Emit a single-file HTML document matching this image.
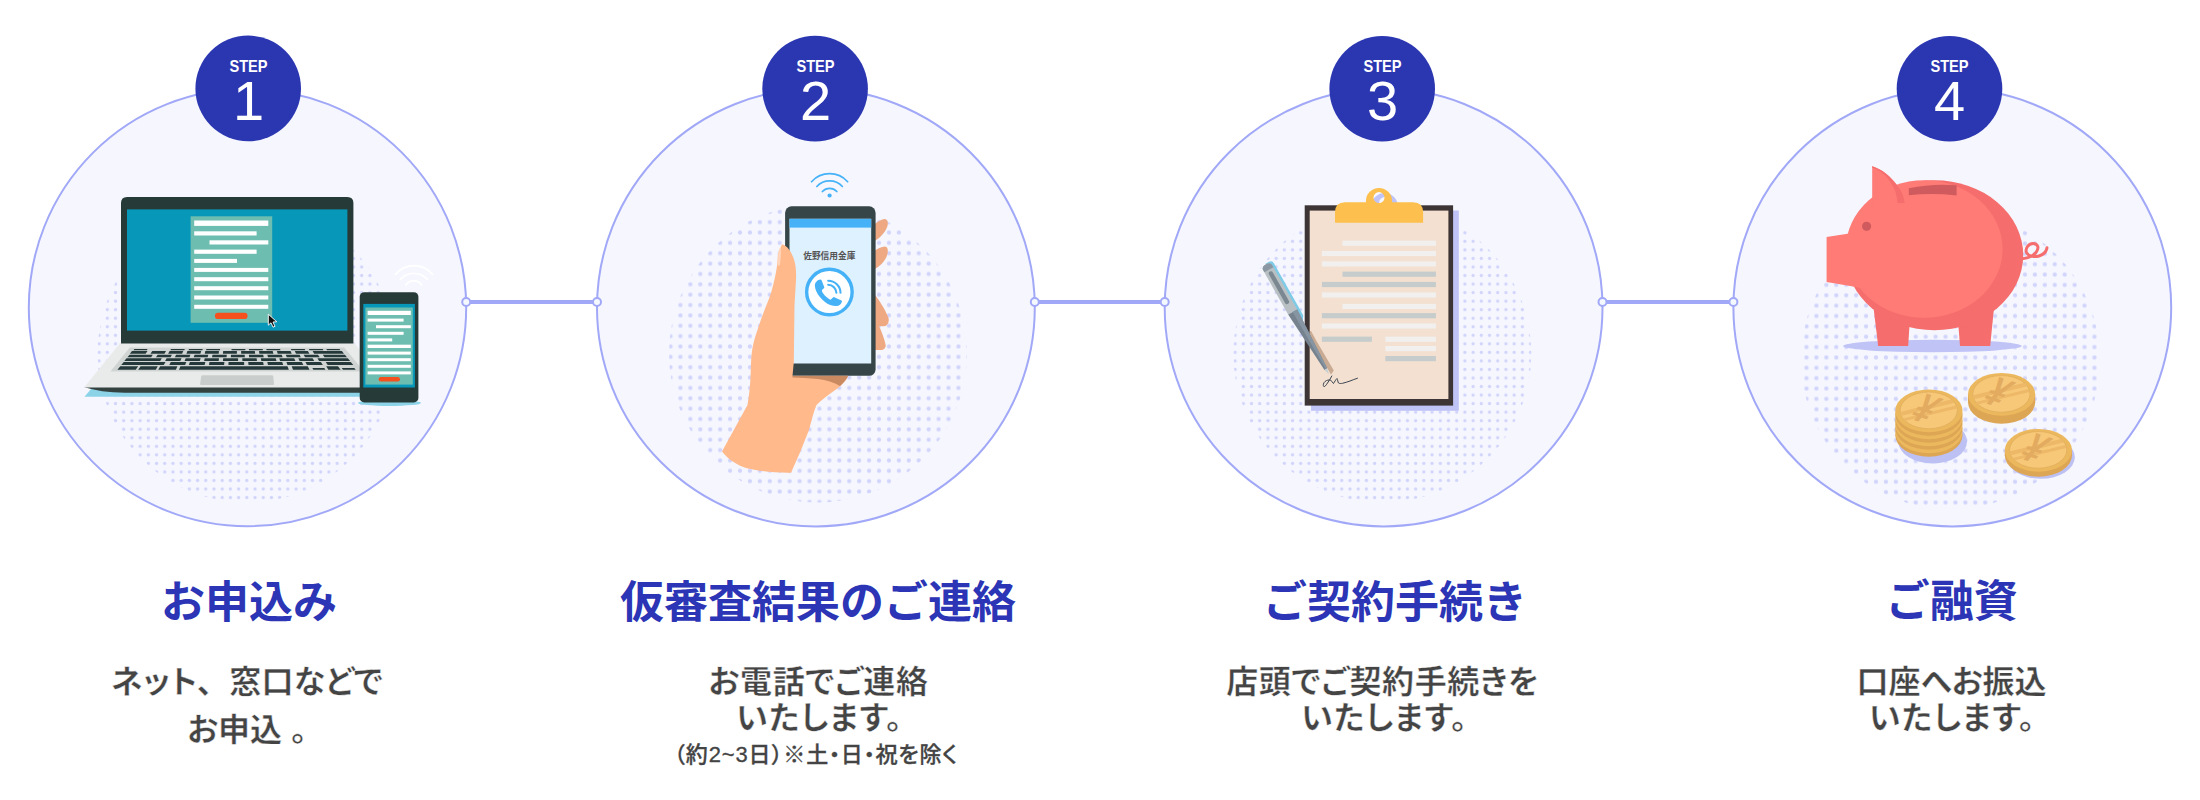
<!DOCTYPE html>
<html lang="ja">
<head>
<meta charset="utf-8">
<title>ご融資までの流れ</title>
<style>
html,body{margin:0;padding:0;background:#fff;}
body{width:2200px;height:800px;overflow:hidden;font-family:"Liberation Sans","Noto Sans CJK JP",sans-serif;}
svg{display:block;}
.hd{font-family:"Liberation Sans","Noto Sans CJK JP",sans-serif;font-weight:700;font-size:44px;fill:#2b35b5;text-anchor:middle;}
.bd{font-family:"Liberation Sans","Noto Sans CJK JP",sans-serif;font-weight:700;font-size:32px;fill:#444;text-anchor:middle;font-feature-settings:"palt";stroke:#fff;stroke-width:0.4px;}
.sm{font-family:"Liberation Sans","Noto Sans CJK JP",sans-serif;font-weight:500;font-size:22px;fill:#444;text-anchor:middle;font-feature-settings:"palt";letter-spacing:0.85px;stroke:#444;stroke-width:0.3px;}
.st{font-family:"Liberation Sans",sans-serif;font-weight:700;font-size:16.3px;fill:#fff;text-anchor:middle;}
.nm{font-family:"Liberation Sans",sans-serif;font-weight:400;font-size:56px;fill:#fff;text-anchor:middle;}
</style>
</head>
<body>
<svg width="2200" height="800" viewBox="0 0 2200 800">
<defs>
  <pattern id="dotS" x="-136.1" y="399.33" width="8.207" height="8.54" patternUnits="userSpaceOnUse">
    <circle cx="4.1" cy="4.27" r="1.65" fill="#d1d4fb"/>
  </pattern>
  <pattern id="dotL" x="-149.97" y="206.62" width="9.93" height="10.36" patternUnits="userSpaceOnUse">
    <circle cx="4.97" cy="5.18" r="2.05" fill="#d1d4fb"/>
  </pattern>
  <clipPath id="faceclip"><ellipse cx="-0.2" cy="-0.4" rx="28.6" ry="18.3"/></clipPath>
  <g id="coin">
    <ellipse cx="0" cy="0" rx="33.6" ry="21.4" fill="#ecb85e"/>
    <ellipse cx="-0.2" cy="-0.4" rx="28.6" ry="18.3" fill="#f8c879" stroke="#dba859" stroke-width="0.6"/>
    <g clip-path="url(#faceclip)">
      <path d="M-30,1.4 L26,-12.2 L26,-8 L-30,5.6 Z" fill="#edb968"/>
      <path d="M-26,7.6 L28,-5.6 L28,-2.4 L-26,10.8 Z" fill="#edb968"/>
      <text transform="matrix(0.949,0.316,-0.84,1.08,-21.5,7.3)" x="0" y="0" font-family="'Liberation Sans',sans-serif" font-weight="700" font-size="33" fill="#e2ab60">¥</text>
    </g>
  </g>
</defs>

<!-- connectors -->
<g stroke="#a1a8f7" stroke-width="4" fill="none">
  <line x1="466.2" y1="302" x2="597" y2="302"/>
  <line x1="1034.8" y1="302" x2="1164.7" y2="302"/>
  <line x1="1602.5" y1="302" x2="1733.4" y2="302"/>
</g>

<!-- big circles -->
<g fill="#f5f6fe" stroke="#a1a8f7" stroke-width="2">
  <circle cx="247.5" cy="307.5" r="218.7"/>
  <circle cx="815.9" cy="307.5" r="218.9"/>
  <circle cx="1383.6" cy="307.5" r="218.9"/>
  <circle cx="1952.3" cy="307.5" r="218.9"/>
</g>

<!-- dotted discs -->
<g transform="translate(247.5,0)"><circle cx="-1" cy="353.5" r="149" fill="url(#dotS)"/></g>
<g transform="translate(815.5,0)"><circle cx="2.5" cy="353.5" r="149" fill="url(#dotL)"/></g>
<g transform="translate(1383.5,0)"><circle cx="-1.2" cy="353.5" r="149" fill="url(#dotS)"/></g>
<g transform="translate(1951.5,0.6)"><circle cx="-1" cy="359.4" r="149.5" fill="url(#dotL)"/></g>

<!-- connector end dots -->
<g fill="#f4f8ff" stroke="#a1a8f7" stroke-width="2">
  <circle cx="466.2" cy="302" r="4"/>
  <circle cx="597" cy="302" r="4"/>
  <circle cx="1034.8" cy="302" r="4"/>
  <circle cx="1164.7" cy="302" r="4"/>
  <circle cx="1602.5" cy="302" r="4"/>
  <circle cx="1733.4" cy="302" r="4"/>
</g>

<!-- ILLUSTRATION 1 -->
<g id="ill1">
  <!-- shadow under laptop -->
  <path d="M91,389 L360,389 L360,396.8 L84.5,396.8 Z" fill="#8dd3e8"/>
  <!-- base front edge -->
  <path d="M84,387 L392,387 L392,392.8 L125,392.8 Q100,392.5 84,387 Z" fill="#33413f"/>
  <!-- base top -->
  <path d="M120.7,342.5 L353.9,342.5 L391,387.5 L84,387.5 Z" fill="#e9ebeb"/>
  <!-- keyboard bed -->
  <path d="M129.7,347.4 L344.2,347.4 L364,371.5 L110.4,371.5 Z" fill="#d0d5d3"/>
  <!-- keys -->
  <path d="M134.4,349.0L147.6,349.0L146.8,350.2L133.5,350.2ZM171.0,349.0L184.8,349.0L184.3,350.2L170.4,350.2ZM189.0,349.0L202.7,349.0L202.4,350.2L188.5,350.2ZM206.3,349.0L220.1,349.0L220.0,350.2L206.1,350.2ZM231.5,349.0L245.3,349.0L245.4,350.2L231.5,350.2ZM248.9,349.0L262.7,349.0L262.9,350.2L249.0,350.2ZM266.3,349.0L280.1,349.0L280.5,350.2L266.6,350.2ZM290.9,349.0L304.7,349.0L305.3,350.2L291.4,350.2ZM308.9,349.0L322.7,349.0L323.5,350.2L309.5,350.2ZM326.3,349.0L339.5,349.0L340.4,350.2L327.1,350.2ZM132.0,351.0L147.5,351.0L145.6,353.8L129.8,353.8ZM152.3,351.0L166.0,351.0L164.5,353.8L150.5,353.8ZM169.6,351.0L183.3,351.0L182.1,353.8L168.1,353.8ZM187.4,351.0L201.2,351.0L200.4,353.8L186.4,353.8ZM205.3,351.0L219.0,351.0L218.7,353.8L204.7,353.8ZM223.2,351.0L236.9,351.0L236.9,353.8L222.9,353.8ZM241.1,351.0L254.8,351.0L255.2,353.8L241.2,353.8ZM259.0,351.0L272.7,351.0L273.4,353.8L259.4,353.8ZM276.9,351.0L290.6,351.0L291.7,353.8L277.7,353.8ZM294.8,351.0L307.9,351.0L309.4,353.8L296.0,353.8ZM312.6,351.0L341.9,351.0L344.0,353.8L314.2,353.8ZM129.6,354.7L152.8,354.7L151.1,357.3L127.4,357.3ZM157.6,354.7L171.9,354.7L170.6,357.3L156.0,357.3ZM176.1,354.7L190.4,354.7L189.5,357.3L174.9,357.3ZM194.6,354.7L208.3,354.7L207.7,357.3L193.7,357.3ZM212.5,354.7L226.8,354.7L226.6,357.3L212.0,357.3ZM231.0,354.7L244.7,354.7L244.8,357.3L230.8,357.3ZM248.9,354.7L263.2,354.7L263.7,357.3L249.1,357.3ZM267.3,354.7L281.7,354.7L282.6,357.3L268.0,357.3ZM285.8,354.7L299.6,354.7L300.8,357.3L286.8,357.3ZM303.7,354.7L318.0,354.7L319.7,357.3L305.1,357.3ZM322.8,354.7L344.9,354.7L347.0,357.3L324.5,357.3ZM126.6,358.3L161.8,358.3L160.2,361.0L124.3,361.0ZM166.6,358.3L181.5,358.3L180.3,361.0L165.1,361.0ZM185.7,358.3L200.6,358.3L199.8,361.0L184.6,361.0ZM204.7,358.3L219.0,358.3L218.7,361.0L204.1,361.0ZM223.2,358.3L238.1,358.3L238.1,361.0L222.9,361.0ZM242.3,358.3L256.6,358.3L257.0,361.0L242.4,361.0ZM260.8,358.3L275.7,358.3L276.5,361.0L261.3,361.0ZM279.3,358.3L294.2,358.3L295.4,361.0L280.1,361.0ZM298.3,358.3L312.6,358.3L314.2,361.0L299.6,361.0ZM317.4,358.3L347.8,358.3L350.1,361.0L319.1,361.0ZM123.8,362.1L165.5,362.1L163.8,365.1L121.2,365.1ZM170.8,362.1L186.3,362.1L185.1,365.1L169.3,365.1ZM189.9,362.1L205.4,362.1L204.6,365.1L188.8,365.1ZM209.5,362.1L224.4,362.1L224.1,365.1L208.9,365.1ZM228.6,362.1L244.1,362.1L244.2,365.1L228.4,365.1ZM248.2,362.1L263.1,362.1L263.7,365.1L248.5,365.1ZM267.3,362.1L282.2,362.1L283.2,365.1L268.0,365.1ZM286.4,362.1L301.9,362.1L303.3,365.1L287.5,365.1ZM305.4,362.1L320.9,362.1L322.8,365.1L307.0,365.1ZM325.7,362.1L350.7,362.1L353.3,365.1L327.7,365.1ZM120.3,366.3L138.2,366.3L135.7,369.7L117.4,369.7ZM140.6,366.3L157.8,366.3L155.8,369.7L138.1,369.7ZM160.2,366.3L177.4,366.3L175.9,369.7L158.2,369.7ZM180.4,366.3L287.5,366.3L288.8,369.7L179.0,369.7ZM291.7,366.3L307.7,366.3L309.5,369.7L293.0,369.7ZM326.2,366.3L338.0,366.3L340.6,369.7L328.4,369.7ZM312.4,368.0L324.3,368.0L325.4,369.7L313.3,369.7ZM341.7,368.0L354.3,368.0L355.7,369.7L343.0,369.7Z" fill="#26393a"/>
  <!-- trackpad -->
  <path d="M202.5,375.2 L272,375.2 Q273,375.2 273.2,376.2 L274,384 Q274,385 273,385 L201,385 Q200,385 200.1,384 L201.3,376.2 Q201.5,375.2 202.5,375.2 Z" fill="#c9cecc"/>
  <!-- lid -->
  <path d="M121,343.5 L121,203 Q121,197 127,197 L347.4,197 Q353.4,197 353.4,203 L353.4,343.5 Z" fill="#263b38"/>
  <rect x="127" y="209.4" width="220.4" height="121.2" fill="#0797b9"/>
  <rect x="190.6" y="216.3" width="81.6" height="106.5" fill="#6dbdb0"/>
  <g fill="#fff">
    <rect x="194.2" y="220.5" width="74.1" height="5.4"/>
    <rect x="194.2" y="231.3" width="62.4" height="4.2"/>
    <rect x="209.5" y="240.3" width="58.8" height="4.2"/>
    <rect x="194.2" y="249.6" width="62.4" height="4.2"/>
    <rect x="194.2" y="258.9" width="42.8" height="4.0"/>
    <rect x="194.2" y="267.9" width="74.1" height="4.0"/>
    <rect x="194.2" y="277.2" width="74.1" height="4.0"/>
    <rect x="194.2" y="286.2" width="74.1" height="4.0"/>
    <rect x="194.2" y="295.5" width="74.1" height="4.0"/>
    <rect x="194.2" y="304.8" width="74.1" height="4.0"/>
  </g>
  <rect x="214.9" y="312.8" width="32.7" height="6.2" rx="3.1" fill="#f4511e"/>
  <!-- cursor -->
  <path d="M268.3,314.2 L268.3,325.2 L271,322.8 L273,327.2 L275,326.3 L273,322 L276.8,321.8 Z" fill="#111" stroke="#fff" stroke-width="0.9" stroke-linejoin="round"/>
  <!-- wifi arcs (white) -->
  <g fill="none" stroke="#fff" stroke-width="1.8" stroke-linecap="round">
    <path d="M405.9,284.9 A9.5,9.5 0 0 1 421.6,284.9"/>
    <path d="M400.3,279.3 A18.5,18.5 0 0 1 427.3,279.3"/>
    <path d="M395.4,274.4 A24.2,24.2 0 0 1 432.5,274.4"/>
  </g>
  <!-- phone shadow -->
  <ellipse cx="389.5" cy="403" rx="31.5" ry="3" fill="#8dd3e8"/>
  <!-- phone -->
  <rect x="359.7" y="292.2" width="58.7" height="110.2" rx="4.5" fill="#263b38"/>
  <rect x="363.3" y="303.9" width="51.6" height="83.6" fill="#0797b9"/>
  <rect x="365.4" y="307.5" width="47.4" height="77.1" fill="#6dbdb0"/>
  <g fill="#fff">
    <rect x="367.6" y="310.8" width="43.2" height="4.2"/>
    <rect x="367.6" y="318.6" width="36.0" height="3"/>
    <rect x="376" y="325.2" width="34.8" height="3"/>
    <rect x="367.6" y="331.8" width="36.0" height="3"/>
    <rect x="367.6" y="338.4" width="24.6" height="3"/>
    <rect x="367.6" y="344.7" width="43.2" height="3.3"/>
    <rect x="367.6" y="351.6" width="43.2" height="3"/>
    <rect x="367.6" y="358.2" width="43.2" height="3"/>
    <rect x="367.6" y="364.8" width="43.2" height="3"/>
    <rect x="367.6" y="371.4" width="43.2" height="3"/>
  </g>
  <rect x="378.6" y="377" width="21.4" height="4.6" rx="2.3" fill="#f4511e"/>
</g>
<!-- ILLUSTRATION 2 -->
<g id="ill2">
  <!-- fingers behind phone -->
  <g fill="#eea983">
    <path d="M874,224.5 C877,222 881,219.6 884.2,219 C887.6,218.6 888.6,222.5 887.3,226.5 C885.5,232 880,238 874,241.5 Z"/>
    <path d="M874,251 C877,249 881.5,246.8 885,246.6 C888.2,246.8 888.4,251.5 887,255.5 C885,261.5 879.5,266.5 874,269.5 Z"/>
    <path d="M874,294 C878,298 885,309 888.5,318 C889.5,322 887.5,326 884,326.3 L874,326 Z"/>
    <path d="M874,325.5 L879,326 C881.5,331 884.5,339 885.7,345 C886,348.5 883,350.5 880,350 L874,350 Z"/>
  </g>
  <!-- phone -->
  <rect x="785.1" y="206.3" width="90.5" height="169.5" rx="6.5" fill="#364548"/>
  <rect x="789.5" y="218.8" width="81.7" height="144.7" fill="#def1ff"/>
  <rect x="789.5" y="218.8" width="81.7" height="8.8" fill="#45b2f8"/>
  <text x="829.3" y="259.3" font-family="'Liberation Sans','Noto Sans CJK JP',sans-serif" font-weight="700" font-size="8.7" fill="#555" text-anchor="middle">佐野信用金庫</text>
  <circle cx="829.4" cy="292.05" r="22.75" fill="#fff" stroke="#45b2f8" stroke-width="3.4"/>
  <path d="M816.4,281.7 C817.5,280.3 819.2,279.5 820.5,279.6 C821.1,279.6 821.5,279.9 821.7,280.4 L824.3,287.3 C824.4,287.7 824.2,288 823.9,288.2 L822.2,289.7 C821.8,290.1 821.9,291.2 822.4,292.3 C823.2,293.6 824,294.6 825,295.7 C826,296.7 827,297.5 828,298.2 C829,298.9 830,299.6 830.6,299.7 L833.3,297.3 C833.6,297.1 833.9,297 834.3,297.2 L841.4,300.4 C841.9,300.6 842.1,301 842,301.5 C841.7,302.8 841,303.8 840,304.7 C838.8,305.6 837.4,306 835.9,305.9 C834,305.9 832,305.6 830.2,305 C828.3,304.2 826.5,303.2 825,302 C823,300.4 821.2,298.6 819.7,296.7 C818.3,295 817.2,293.3 816.4,291.5 C815.6,289.8 815.1,288 814.9,286.2 C814.8,285.2 814.9,284.2 815.2,283.3 C815.5,282.7 815.9,282.2 816.4,281.7 Z" fill="#45b2f8"/>
  <g fill="none" stroke="#45b2f8" stroke-width="2.1" stroke-linecap="round">
    <path d="M828.2,284.8 A8.2,8.2 0 0 1 836.4,292.8"/>
    <path d="M828.2,280.7 A12.3,12.3 0 0 1 840.5,292.8"/>
  </g>
  <!-- wifi -->
  <circle cx="829.6" cy="195.5" r="2.1" fill="#45b2f8"/>
  <g fill="none" stroke="#45b2f8" stroke-width="1.7" stroke-linecap="round">
    <path d="M822.39,191.51 A9.7,9.7 0 0 1 836.81,191.51"/>
    <path d="M816.82,186.49 A17.2,17.2 0 0 1 842.38,186.49"/>
    <path d="M811.54,181.74 A24.3,24.3 0 0 1 847.66,181.74"/>
  </g>
  <!-- hand -->
  <path d="M782,244.3 C786,245 790.5,250 793.5,258 C796,265 796.3,272 796,280 L794.5,305 L793.8,362 L792.5,376 L848,376.5 C846,381 842,385 838,388 C830,394 822,399 816.5,405 C813.5,412 811.5,421 809,430 L800,452.5 L791,472.7 C778,473 760,471.5 748,468.5 C737,465.5 728,459 722,451.5 L747.5,405 C749.5,394 750.5,382 750.8,370 C751,362 751.3,355 752.3,349 C753.5,342 755.3,336 757.5,330 C760,322.5 762.5,315 765.5,307.5 C768.5,300 771,294 772.5,287.5 C774.5,280 776,273 777,266 C778,258 779,250 782,244.3 Z" fill="#ffb98b"/>
  <!-- shadow under phone on palm -->
  <path d="M792.5,375.8 L848.2,375.8 C846.5,379.5 843.5,383 840,386 C834,382.5 826,380 818,379 C809,378 800,377.5 792.4,377.4 Z" fill="#c98a62"/>
  <!-- thumbnail -->
  <path d="M777.2,263 C777.2,257 778,251.5 779.6,248.5 C780.4,247.5 781,248.5 781,250 C781,255 780.6,260.5 779.8,265 C779.3,266.5 777.3,266 777.2,263 Z" fill="#ffd4b8"/>
</g>
<!-- ILLUSTRATION 3 -->
<g id="ill3">
  <!-- drop shadow -->
  <rect x="1311" y="210.5" width="147.8" height="200.3" fill="#bfc3f5"/>
  <path d="M1371.5,210 L1371.5,206 A13.1,13.1 0 0 1 1397.7,206 L1397.7,210 Z M1384.6,197.1 A5.5,5.5 0 0 0 1379.1,202.6 A5.5,5.5 0 0 0 1384.6,208.1 A5.5,5.5 0 0 0 1390.1,202.6 A5.5,5.5 0 0 0 1384.6,197.1 Z" fill="#bfc3f5" fill-rule="evenodd"/>
  <!-- board -->
  <rect x="1304.7" y="205.3" width="148.4" height="200.3" fill="#3d3535"/>
  <rect x="1309.7" y="210.6" width="138.7" height="188.4" fill="#f3e0d0"/>
  <rect x="1342.5" y="240.6" width="93.4" height="5.2" fill="#f1f0ee"/>
  <rect x="1321.9" y="250.9" width="114.0" height="5.2" fill="#f1f0ee"/>
  <rect x="1321.9" y="261.3" width="114.0" height="5.2" fill="#f1f0ee"/>
  <rect x="1342.5" y="271.6" width="93.4" height="5.2" fill="#c5cccb"/>
  <rect x="1321.9" y="281.9" width="114.0" height="5.2" fill="#c5cccb"/>
  <rect x="1321.9" y="292.4" width="114.0" height="5.2" fill="#f1f0ee"/>
  <rect x="1342.5" y="303.9" width="93.4" height="5.2" fill="#f1f0ee"/>
  <rect x="1321.9" y="313.1" width="114.0" height="5.2" fill="#c5cccb"/>
  <rect x="1321.9" y="323.4" width="114.0" height="5.2" fill="#f1f0ee"/>
  <rect x="1321.9" y="336.6" width="50.0" height="5.2" fill="#c5cccb"/>
  <rect x="1385.3" y="336.6" width="50.6" height="5.2" fill="#f1f0ee"/>
  <rect x="1385.3" y="346" width="50.6" height="5.2" fill="#f1f0ee"/>
  <rect x="1385.3" y="356" width="50.6" height="5.2" fill="#c5cccb"/>
  <!-- signature -->
  <path d="M1331.8,376 C1330.5,378.5 1329,381 1327.5,383 C1326,385.5 1324.5,387 1323.8,386.5 C1322.8,385.5 1323.3,383 1325,381.5 C1326.8,380 1329,379.8 1330.5,380 C1331.5,381 1332.5,382.5 1333.5,383.5 C1334.5,382 1335.8,379.5 1337,378.5 C1337.8,380 1337.8,382 1338.5,383 C1340,383.8 1341.5,383.5 1342.5,383.3 C1345,382.8 1347.5,381.8 1350,381 C1352.5,380.1 1355,379 1357.5,378.2" fill="none" stroke="#333c4a" stroke-width="0.95" stroke-linecap="round" stroke-linejoin="round"/>
  <!-- clip -->
  <path d="M1365.9,202.2 L1365.9,201 A13.1,13.1 0 0 1 1392.1,201 L1392.1,202.2 L1413.1,202.2 Q1423.1,202.2 1423.1,212.2 L1423.1,222.8 L1335,222.8 L1335,212.2 Q1335,202.2 1345,202.2 Z M1379,192.1 A5.5,5.5 0 0 0 1373.5,197.6 A5.5,5.5 0 0 0 1379,203.1 A5.5,5.5 0 0 0 1384.5,197.6 A5.5,5.5 0 0 0 1379,192.1 Z" fill="#fdc04e" fill-rule="evenodd"/>
  <!-- pen shadow on paper -->
  <path d="M1311,331 L1316.5,341 L1333.8,370.5 L1331,374.5 L1309.8,338 L1309.8,331 Z" fill="#c9aa92"/>
  <g transform="translate(1328.9,374.3) rotate(-29.4)">
    <path d="M1.2,-56 L6.6,-64 L6.6,-123.5 Q6.6,-127.4 3,-127.4 L-1,-127.4 L-1,-56 Z" fill="#7dcbe6"/>
    <path d="M-6.2,-72 L-6.2,-122.5 Q-6.2,-126.6 -2.2,-126.6 L0.4,-126.6 Q4.2,-126.6 4.2,-122.5 L4.2,-72 Z" fill="#b9c0c4"/>
    <path d="M-6.2,-122.5 Q-6.2,-126.6 -2.2,-126.6 L0.4,-126.6 Q4.2,-126.6 4.2,-122.5 L4.2,-120.5 L-6.2,-120.5 Z" fill="#8b98a3"/>
    <rect x="-3.2" y="-118.5" width="4.4" height="37" rx="2.2" fill="#7b8892"/>
    <path d="M-6.2,-72 L4.2,-72 L1.5,-6 L-1.7,-6 Z" fill="#76838f"/>
    <path d="M-1,-72 L4.2,-72 L1.5,-6 L-0.2,-6 Z" fill="#8795a2"/>
    <!-- tip -->
    <path d="M-1.7,-6 L1.5,-6 L0,0 Z" fill="#c9d0d4"/>
  </g>
</g>
<!-- ILLUSTRATION 4 -->
<g id="ill4">
  <!-- pig shadow -->
  <ellipse cx="1932.4" cy="346" rx="89.4" ry="6.2" fill="#bfc3f5"/>
  <!-- legs -->
  <path d="M1873.8,310 L1910.4,310 L1908.2,345.9 L1878.2,345.9 Z" fill="#f56d6c"/>
  <path d="M1957.2,310 L1993.8,310 L1990.2,345.9 L1960,345.9 Z" fill="#f56d6c"/>
  <!-- tail -->
  <path d="M2021,258.9 C2028,258.5 2033,256 2036,252.5 C2039.5,248 2038,243.4 2033,243.4 C2028,243.6 2025,249 2026.5,252.5 C2028,256 2034,257.5 2039,256 C2044,254.5 2046.5,251 2047,247.8" fill="none" stroke="#f56d6c" stroke-width="3" stroke-linecap="round"/>
  <!-- body -->
  <ellipse cx="1934.5" cy="255.2" rx="88.7" ry="75" fill="#f56d6c"/>
  <ellipse cx="1924.2" cy="249" rx="78.4" ry="68.8" fill="#ff7b76"/>
  <!-- snout -->
  <path d="M1826.6,237.1 L1845.9,234.1 L1870,230 L1870,290 L1851.6,286.3 L1826.6,282.1 Z" fill="#ff7b76"/>
  <!-- ear -->
  <path d="M1872.2,166.2 C1876,167.5 1879.5,169.2 1882.5,171 C1887,174 1891,177.8 1893.8,181.3 C1897,185 1899.5,188.5 1901.3,191.6 C1903.2,195.5 1904.2,199.5 1904.6,203 L1896,204.5 L1872.2,206 Z" fill="#ff7b76"/>
  <path d="M1872.2,166.2 C1876,167.5 1879.5,169.2 1882.5,171 C1887,174 1891,177.8 1893.8,181.3 C1897,185 1899.5,188.5 1901.3,191.6 C1903.2,195.5 1904.2,199.5 1904.6,203 L1897.5,203 C1897,197 1895.8,192 1893.8,187.8 C1891,182.5 1888,178.5 1884.4,174.8 C1880.5,171.3 1876.5,169 1872.2,167.8 Z" fill="#f56d6c"/>
  <!-- eye -->
  <circle cx="1866.6" cy="226.3" r="4.6" fill="#d05b5e"/>
  <!-- slot -->
  <path d="M1908.8,188.2 Q1932,183.2 1956.6,185.2 L1956.6,195.5 Q1932,192.8 1908.8,195.2 Z" fill="#d05b5e"/>
  <!-- coins -->
  <ellipse cx="1932.7" cy="441.5" rx="34.3" ry="22" fill="#bcc0f3"/>
  <ellipse cx="1928.9" cy="435.3" rx="33.6" ry="21.4" fill="#dca655"/>
  <ellipse cx="1928.9" cy="431.8" rx="33.6" ry="21.4" fill="#ecb85e"/>
  <ellipse cx="1928.9" cy="428.3" rx="33.6" ry="21.4" fill="#dca655"/>
  <ellipse cx="1928.9" cy="424.8" rx="33.6" ry="21.4" fill="#ecb85e"/>
  <ellipse cx="1928.9" cy="421.3" rx="33.6" ry="21.4" fill="#dca655"/>
  <ellipse cx="1928.9" cy="417.8" rx="33.6" ry="21.4" fill="#ecb85e"/>
  <ellipse cx="1928.9" cy="414.3" rx="33.6" ry="21.4" fill="#dca655"/>
  <use href="#coin" x="1928.9" y="410.8"/>
  <ellipse cx="2001.6" cy="402.3" rx="33.6" ry="21.4" fill="#dca655"/>
  <rect x="1968" y="394.3" width="67.2" height="8" fill="#dca655"/>
  <use href="#coin" x="2001.6" y="394.3"/>
  <ellipse cx="2040.8" cy="457.2" rx="34" ry="21.6" fill="#bcc0f3"/>
  <ellipse cx="2038.4" cy="455.3" rx="33.6" ry="21.4" fill="#dca655"/>
  <rect x="2004.8" y="450.3" width="67.2" height="5" fill="#dca655"/>
  <use href="#coin" x="2038.4" y="450.3"/>
</g>

<!-- step badges -->
<g fill="#2b36b1">
  <circle cx="248.2" cy="88.4" r="52.8"/>
  <circle cx="815.1" cy="88.6" r="52.8"/>
  <circle cx="1382.2" cy="88.8" r="52.8"/>
  <circle cx="1949.5" cy="88.8" r="52.8"/>
</g>
<text class="st" x="248.5" y="72" textLength="38.2" lengthAdjust="spacingAndGlyphs">STEP</text>
<text class="st" x="815.5" y="72" textLength="38.2" lengthAdjust="spacingAndGlyphs">STEP</text>
<text class="st" x="1382.5" y="72" textLength="38.2" lengthAdjust="spacingAndGlyphs">STEP</text>
<text class="st" x="1949.5" y="72" textLength="38.2" lengthAdjust="spacingAndGlyphs">STEP</text>
<text class="nm" x="248.5" y="120.3">1</text>
<text class="nm" x="815.5" y="120.3">2</text>
<text class="nm" x="1382.5" y="120.3">3</text>
<text class="nm" x="1949.5" y="120.3">4</text>

<!-- headings -->
<text class="hd" x="249" y="618">お申込み</text>
<text class="hd" x="818" y="618">仮審査結果のご連絡</text>
<text class="hd" x="1395" y="618">ご契約手続き</text>
<text class="hd" x="1951.8" y="617.4">ご融資</text>

<!-- body text -->
<text class="bd" x="247" y="693" letter-spacing="0.3">ネット、<tspan dx="16">窓口などで</tspan></text>
<text class="bd" x="247" y="741">お申込 。</text>

<text class="bd" x="818.5" y="693" letter-spacing="0.6">お電話でご連絡</text>
<text class="bd" x="819.5" y="729" letter-spacing="1">いたします。</text>
<text class="sm" x="816.2" y="762">（約2~3日）※土・日・祝を除く</text>

<text class="bd" x="1382.8" y="693" letter-spacing="0.6">店頭でご契約手続きを</text>
<text class="bd" x="1384.5" y="729" letter-spacing="1">いたします。</text>

<text class="bd" x="1951.5" y="693">口座へお振込</text>
<text class="bd" x="1952.3" y="729" letter-spacing="1">いたします。</text>
</svg>
</body>
</html>
